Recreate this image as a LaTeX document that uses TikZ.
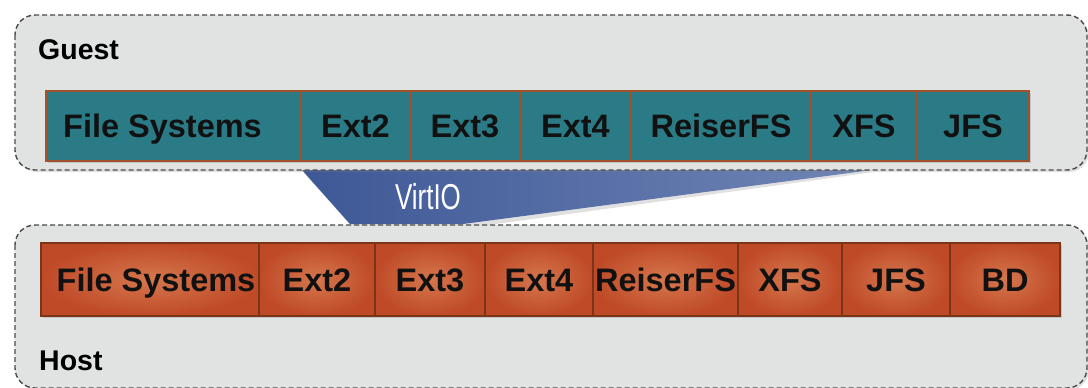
\documentclass[tikz,border=0pt]{standalone}
\usepackage{fontspec}
\setmainfont{Liberation Sans}
\usetikzlibrary{shadows}
\definecolor{panelbg}{HTML}{E1E3E2}
\definecolor{panelline}{HTML}{4A4A4A}
\definecolor{teal}{HTML}{2A7B86}
\definecolor{tealedge}{HTML}{A0522D}
\definecolor{hostin}{HTML}{D5774D}
\definecolor{hostout}{HTML}{BF4A28}
\definecolor{hostedge}{HTML}{7A3418}
\definecolor{vioL}{HTML}{3E5896}
\definecolor{vioR}{HTML}{7186B6}
\definecolor{inktext}{HTML}{111111}
\tikzset{
  panel/.style={draw=panelline, fill=panelbg, dash pattern=on 5pt off 3pt, line width=1.4pt, rounded corners=20pt,
     drop shadow={opacity=0.25, shadow xshift=2pt, shadow yshift=-2pt}},
  cellbase/.style={anchor=west, inner sep=0pt, outer sep=0pt, text height=23.3pt, text depth=0pt,
     font=\fontsize{32.5}{32.5}\selectfont\bfseries, text=inktext,
     drop shadow={opacity=0.3, shadow xshift=1.5pt, shadow yshift=-1.5pt}},
  gcell/.style={cellbase, fill=teal, draw=tealedge, line width=1.6pt, minimum height=70pt},
  hcell/.style={cellbase, inner color=hostin, outer color=hostout, draw=hostedge, line width=1.2pt, minimum height=73pt},
  plabel/.style={anchor=west, inner sep=0pt, text height=20.4pt, text depth=0pt, font=\fontsize{28.5}{28.5}\selectfont\bfseries, text=black},
}
\begin{document}
\begin{tikzpicture}[x=1pt,y=-1pt]
\useasboundingbox (0,0) rectangle (1088,388);
% VirtIO funnel
\fill[black, opacity=0.12] (304,173) -- (874,172) -- (467,228) -- (353,228) -- cycle;
\shade[left color=vioL, right color=vioR] (302,170) -- (872,170) -- (463,224) -- (350,224) -- cycle;
\node[text=white, inner sep=0pt, text height=26pt, text depth=0pt, font=\fontsize{36}{36}\selectfont, xscale=0.72] (virtio) at (428,196) {VirtIO};
% panels
\draw[panel] (15,15) rectangle (1087,170);
\draw[panel] (15,225) rectangle (1087,388);
\node[plabel] (guest) at (38,49) {Guest};
\node[plabel] (host) at (39,360) {Host};
% guest cells
\node[gcell, minimum width=255pt] (g1) at (46,126) {\hspace*{-22pt}File Systems};
\node[gcell, minimum width=109pt] (g2) at (g1.east) {Ext2};
\node[gcell, minimum width=110pt] (g3) at (g2.east) {Ext3};
\node[gcell, minimum width=111pt] (g4) at (g3.east) {Ext4};
\node[gcell, minimum width=180pt] (g5) at (g4.east) {ReiserFS};
\node[gcell, minimum width=106pt] (g6) at (g5.east) {XFS};
\node[gcell, minimum width=112pt] (g7) at (g6.east) {JFS};
% host cells
\node[hcell, minimum width=218pt] (h1) at (41,279.5) {\hspace*{12pt}File Systems};
\node[hcell, minimum width=116pt] (h2) at (h1.east) {Ext2};
\node[hcell, minimum width=110pt] (h3) at (h2.east) {Ext3};
\node[hcell, minimum width=108pt] (h4) at (h3.east) {Ext4};
\node[hcell, minimum width=145pt] (h5) at (h4.east) {ReiserFS};
\node[hcell, minimum width=104pt] (h6) at (h5.east) {XFS};
\node[hcell, minimum width=108pt] (h7) at (h6.east) {JFS};
\node[hcell, minimum width=110pt] (h8) at (h7.east) {BD};
\end{tikzpicture}
\end{document}
